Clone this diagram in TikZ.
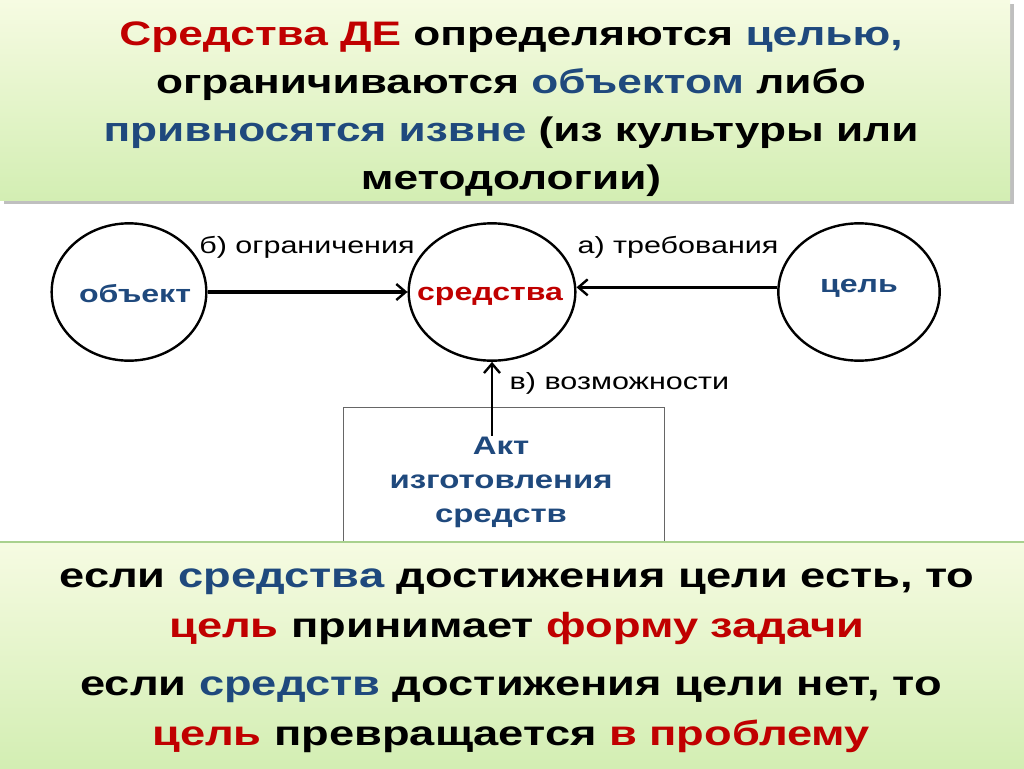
\documentclass[tikz,border=0pt]{standalone}
\usepackage{fontspec}
\setmainfont{Liberation Sans}[FakeStretch=1.3]
\usetikzlibrary{shapes.geometric,arrows.meta}
\definecolor{dred}{HTML}{C00000}
\definecolor{dblue}{HTML}{1F497D}
\definecolor{pale}{HTML}{F6FBE2}
\definecolor{leaf}{HTML}{D3EEB3}
\definecolor{rim}{HTML}{A9D18E}

\begin{document}
\begin{tikzpicture}[x=0.75pt,y=-0.75pt,
    ell/.style={ellipse,draw,line width=1.8pt,minimum height=103pt,inner sep=0pt},
    big/.style={font=\fontsize{25.5}{36}\selectfont\bfseries,align=center},
    lbl/.style={font=\fontsize{17.6}{20}\selectfont},
    word/.style={font=\fontsize{18.5}{22}\selectfont\bfseries},
    ptr/.style={-{Straight Barb[length=7pt,width=12pt,line width=1.8pt]},line width=2.3pt}]
        \useasboundingbox (0,0) rectangle (1024,768);
        \fill[white] (0,0) rectangle (1024,768);

        % top panel
        \fill[black!25] (4,4) rectangle (1014,204);
        \shade[top color=pale,bottom color=leaf] (0,0) rectangle (1010,200);
        \node (title) at (511,109) [big] {\textcolor{dred}{Средства ДЕ} определяются \textcolor{dblue}{целью,}\\
            ограничиваются \textcolor{dblue}{объектом} либо\\
            \textcolor{dblue}{привносятся извне} (из культуры или\\
            методологии)};

        % scheme
        \node (obj) at (129,292) [ell,minimum width=116pt] {};
        \node (sred) at (492,292) [ell,minimum width=125pt] {};
        \node (cel) at (859,292) [ell,minimum width=121pt] {};
        \node (objt) at (135,294) [word,text=dblue] {объект};
        \node (sredt) at (490,296) [word,text=dred] {средства};
        \node (celt) at (859,288) [word,text=dblue] {цель};

        \node (box) at (504,476) [draw=black!60,line width=0.8pt,minimum width=241pt,minimum height=103pt] {};
        \node (akt) at (501,482) [font=\fontsize{19}{25.5}\selectfont\bfseries,text=dblue,align=center] {Акт\\изготовления\\средств};

        \node (lb) at (307,247) [lbl] {б) ограничения};
        \node (la) at (678,247) [lbl] {а) требования};
        \node (lv) at (505,383) [lbl,anchor=west] {в) возможности};

        \draw[ptr] (obj.east) -- (sred.west);
        \draw[ptr] ([yshift=3.5pt]cel.west) -- ([yshift=3.5pt]sred.east);
        \draw[ptr,line width=2pt] ([yshift=-3pt]sred.south |- akt.north) -- (sred.south);

        % bottom panel
        \shade[top color=pale,bottom color=leaf] (0,542) rectangle (1024,768);
        \draw[rim,line width=1.5pt] (0,542) -- (1024,542);
        \node (yes) at (517,607) [big,font=\fontsize{26.1}{37.5}\selectfont\bfseries] {если \textcolor{dblue}{средства} достижения цели есть, то\\
            \textcolor{dred}{цель} принимает \textcolor{dred}{форму задачи}};
        \node (no) at (511,715) [big,font=\fontsize{26.1}{37.5}\selectfont\bfseries] {если \textcolor{dblue}{средств} достижения цели нет, то\\
            \textcolor{dred}{цель} превращается \textcolor{dred}{в проблему}};
\end{tikzpicture}
\end{document}
